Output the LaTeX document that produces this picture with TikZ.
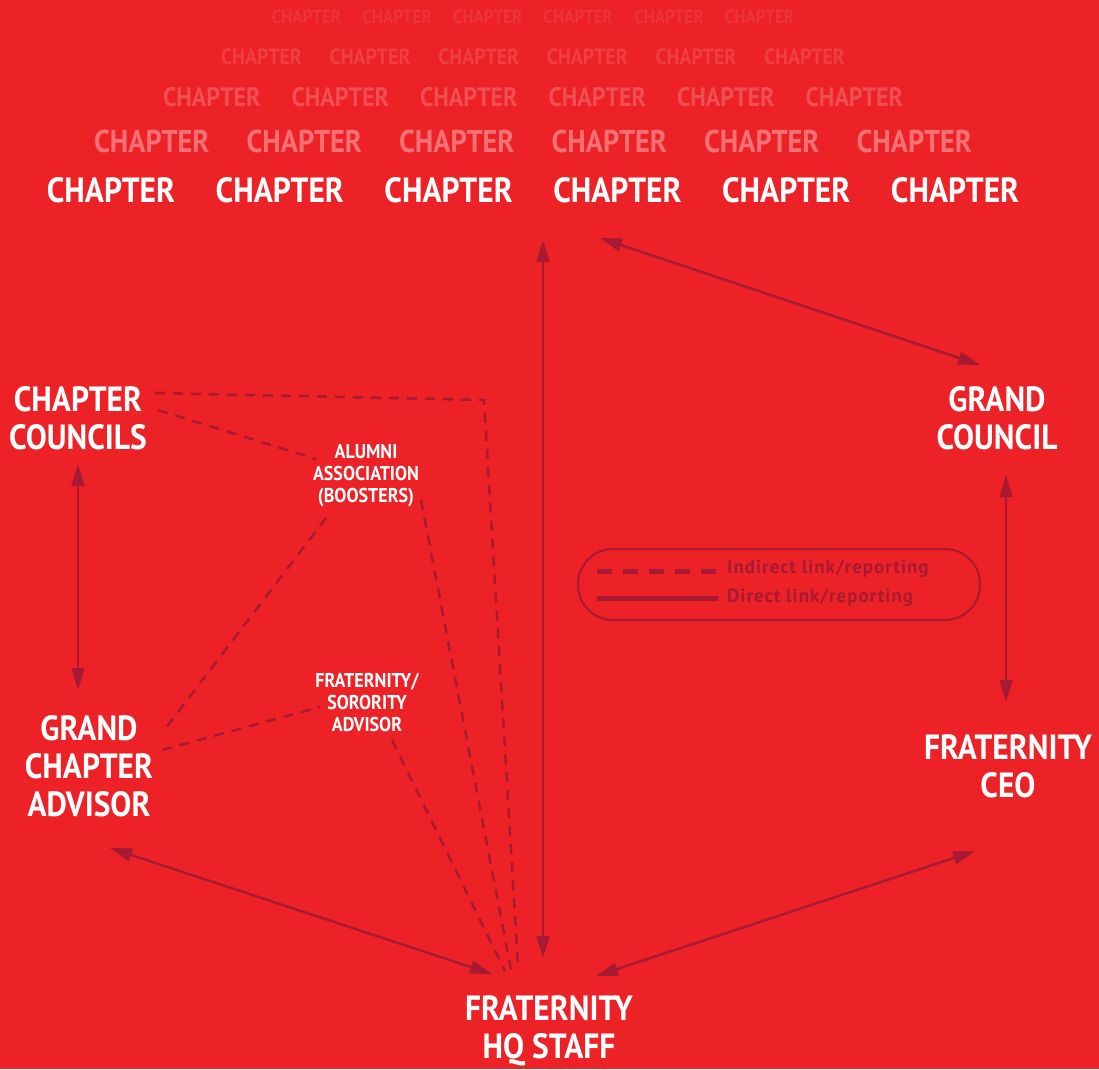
\documentclass[tikz,border=0pt]{standalone}
\usepackage{fontspec}
\setmainfont{PT Sans}[FakeStretch=0.9]
\newfontfamily\legendfont{PT Sans}[LetterSpace=5]
\usetikzlibrary{arrows.meta}
\definecolor{bgred}{RGB}{236,34,39}
\definecolor{linkred}{RGB}{168,26,52}

\begin{document}
\begin{tikzpicture}[x=1pt,y=-1pt]
      \tikzstyle{role}=[text=white, font=\bfseries\fontsize{35}{38}\selectfont, align=center, inner sep=0pt]
      \tikzstyle{small role}=[role, font=\bfseries\fontsize{20}{22}\selectfont]
      \tikzstyle{chapter}=[role]
      \tikzstyle{direct}=[draw=linkred, line width=2.5pt, {Triangle[length=22pt,width=13pt]}-{Triangle[length=22pt,width=13pt]}]
      \tikzstyle{indirect}=[draw=linkred, line width=2.5pt, dash pattern=on 10pt off 8pt]
      \tikzstyle{legend text}=[text=linkred, anchor=west, inner sep=0pt, font=\legendfont\bfseries\fontsize{19}{21}\selectfont]

      % Background
      \fill[bgred] (0,0) rectangle (1099,1069);
      \useasboundingbox (0,0) rectangle (1099,1069);

      % Draw the chapter rows, fading towards the top
      \foreach \row/\y/\sc/\sp/\shade in {1/17/0.54/90.6/8, 2/57/0.63/108.6/13, 3/97/0.76/128.5/20, 4/141/0.9/152.5/36, 5/190/1/168.8/100}
          \foreach \i in {1,...,6}
              \node[chapter, scale=\sc, text=white!\shade!bgred] (C\row-\i) at ({533+(\i-3.5)*\sp},\y) {CHAPTER};

      % Draw the role nodes
      \node[role] (councils) at (78,418) {CHAPTER\\COUNCILS};
      \node[role] (grand) at (997,418) {GRAND\\COUNCIL};
      \node[role] (advisor) at (89,766) {GRAND\\CHAPTER\\ADVISOR};
      \node[role] (ceo) at (1008,766) {FRATERNITY\\CEO};
      \node[role] (hq) at (549,1031) {FRATERNITY\\HQ STAFF};
      \node[small role] (alumni) at (366,476) {ALUMNI\\ASSOCIATION\\(BOOSTERS)};
      \node[small role] (fsadvisor) at (367,703) {FRATERNITY/\\SORORITY\\ADVISOR};

      % Arrow ends
      \coordinate (chap-v) at (543,240);
      \coordinate (hq-v) at (543,958);
      \coordinate (chap-r) at (600,238);
      \coordinate (grand-t) at (980,365);
      \coordinate (councils-b) at (78,464);
      \coordinate (advisor-t) at (78,690);
      \coordinate (grand-b) at (1006,475);
      \coordinate (ceo-t) at (1006,702);
      \coordinate (advisor-b) at (110,848);
      \coordinate (hq-l) at (492,974);
      \coordinate (ceo-b) at (975,851);
      \coordinate (hq-r) at (596,976);

      % Direct links
      \draw[direct] (chap-v) -- (hq-v);
      \draw[direct] (chap-r) -- (grand-t);
      \draw[direct] (councils-b) -- (advisor-t);
      \draw[direct] (grand-b) -- (ceo-t);
      \draw[direct] (advisor-b) -- (hq-l);
      \draw[direct] (ceo-b) -- (hq-r);

      % Indirect links
      \coordinate (councils-a) at (155,393);
      \coordinate (bend) at (484,400);
      \coordinate (hq-a) at (518,966);
      \coordinate (councils-c) at (158,410);
      \coordinate (alumni-a) at (316,459);
      \coordinate (alumni-b) at (326,518);
      \coordinate (advisor-a) at (162,733);
      \coordinate (alumni-c) at (421,500);
      \coordinate (hq-b) at (511,970);
      \coordinate (advisor-c) at (162,750);
      \coordinate (fsadvisor-a) at (320,707);
      \coordinate (fsadvisor-b) at (392,740);
      \coordinate (hq-c) at (505,971);
      \draw[indirect] (councils-a) -- (bend) -- (hq-a);
      \draw[indirect] (councils-c) -- (alumni-a);
      \draw[indirect] (alumni-b) -- (advisor-a);
      \draw[indirect] (alumni-c) -- (hq-b);
      \draw[indirect] (advisor-c) -- (fsadvisor-a);
      \draw[indirect] (fsadvisor-b) -- (hq-c);

      % Legend
      \node[draw=linkred, line width=2pt, rounded corners=35pt, minimum width=402pt, minimum height=71pt] (legend) at (779,584.5) {};
      \draw[linkred, line width=5pt, dash pattern=on 15pt off 11pt] (597,571) -- (718,571);
      \draw[linkred, line width=5pt] (597,598) -- (718,598);
      \node[legend text] (indirect-key) at (727,569) {Indirect link/reporting};
      \node[legend text] (direct-key) at (727,598) {Direct link/reporting};
\end{tikzpicture}
\end{document}
